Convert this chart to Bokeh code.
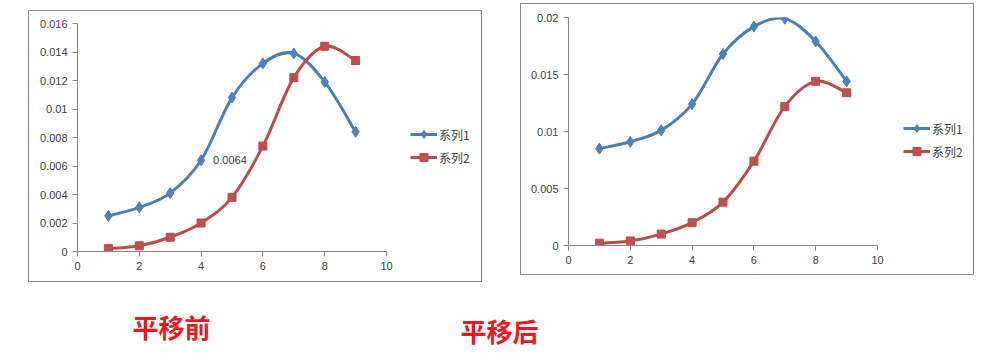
from bokeh.plotting import figure
from bokeh.models import (Range1d, FixedTicker, Legend, LegendItem, Label, Spacer,
                          ColumnDataSource)
from bokeh.layouts import row, column
from bokeh.embed import file_html
from bokeh.resources import INLINE

# ---------------- data ----------------
x_vals = [1, 2, 3, 4, 5, 6, 7, 8, 9]
s1_before = [0.0025, 0.0031, 0.0041, 0.0064, 0.0108, 0.0132, 0.0139, 0.0119, 0.0084]
s2_values = [0.0002, 0.0004, 0.0010, 0.0020, 0.0038, 0.0074, 0.0122, 0.0144, 0.0134]
s1_after = [0.0085, 0.0091, 0.0101, 0.0124, 0.0168, 0.0192, 0.0199, 0.0179, 0.0144]
series_names = ["系列1", "系列2"]
captions = ["平移前", "平移后"]

x_ticks = [0, 2, 4, 6, 8, 10]
x_tick_labels = ["0", "2", "4", "6", "8", "10"]
y1_ticks = [0, 0.002, 0.004, 0.006, 0.008, 0.01, 0.012, 0.014, 0.016]
y1_tick_labels = ["0", "0.002", "0.004", "0.006", "0.008", "0.01", "0.012", "0.014", "0.016"]
y2_ticks = [0, 0.005, 0.01, 0.015, 0.02]
y2_tick_labels = ["0", "0.005", "0.01", "0.015", "0.02"]
x_axis_max = 10
label_index = 3  # data label shown on series 1 before shift

BLUE_LINE = "#4A7EBB"
BLUE_FILL = "#4F81BD"
RED_LINE = "#BE4B48"
RED_FILL = "#C0504D"
TEXT = "#404040"
AXIS = "#868686"
TICK_FONT = "Liberation Sans"
CJK_FONT = "Noto Sans CJK SC"

FIG_W, FIG_H = 454, 272
PLOT_W = 309  # pixel length of the x axis (0..10)


def bezier_source(xs, ys):
    """Excel-style smoothed line: cubic Bezier segments between data points."""
    n = len(xs)
    d = dict(x0=[], y0=[], x1=[], y1=[], cx0=[], cy0=[], cx1=[], cy1=[])
    for i in range(n - 1):
        ip = max(i - 1, 0)
        inx = min(i + 2, n - 1)
        d["x0"].append(xs[i]); d["y0"].append(ys[i])
        d["x1"].append(xs[i + 1]); d["y1"].append(ys[i + 1])
        d["cx0"].append(xs[i] + (xs[i + 1] - xs[ip]) / 6.0)
        d["cy0"].append(ys[i] + (ys[i + 1] - ys[ip]) / 6.0)
        d["cx1"].append(xs[i + 1] - (xs[inx] - xs[i]) / 6.0)
        d["cy1"].append(ys[i + 1] - (ys[inx] - ys[i]) / 6.0)
    return ColumnDataSource(d)


def make_chart(s1, s2, yticks, ylabels, ymax, borders, legend_loc, show_label):
    bl, br, bt, bb = borders
    frame_w = FIG_W - bl - br
    x_end = x_axis_max * frame_w / PLOT_W
    p = figure(width=FIG_W, height=FIG_H, output_backend="svg", toolbar_location=None,
               x_range=Range1d(0, x_end), y_range=Range1d(0, ymax),
               min_border_left=bl, min_border_right=br, min_border_top=bt,
               min_border_bottom=bb,
               styles={"border": "1px solid #8a8a8a"})
    p.outline_line_color = None
    p.grid.visible = False
    p.background_fill_color = "white"
    p.border_fill_color = "white"

    for ax in (p.xaxis[0], p.yaxis[0]):
        ax.axis_line_color = AXIS
        ax.major_tick_line_color = AXIS
        ax.minor_tick_line_color = None
        ax.major_tick_in = 0
        ax.major_tick_out = 5
        ax.major_label_text_font = TICK_FONT
        ax.major_label_text_font_size = "11px"
        ax.major_label_text_color = TEXT
        ax.major_label_standoff = 5
    p.xaxis.bounds = (0, x_axis_max)
    p.xaxis.ticker = FixedTicker(ticks=x_ticks)
    p.xaxis.major_label_overrides = dict(zip(x_ticks, x_tick_labels))
    p.yaxis.ticker = FixedTicker(ticks=yticks)
    p.yaxis.major_label_overrides = dict(zip(yticks, ylabels))

    b1 = p.bezier("x0", "y0", "x1", "y1", "cx0", "cy0", "cx1", "cy1",
                  source=bezier_source(x_vals, s1), line_color=BLUE_LINE, line_width=3)
    m1 = p.scatter(x_vals, s1, marker="diamond", size=11, fill_color=BLUE_FILL,
                   line_color=BLUE_LINE, line_width=1)
    b2 = p.bezier("x0", "y0", "x1", "y1", "cx0", "cy0", "cx1", "cy1",
                  source=bezier_source(x_vals, s2), line_color=RED_LINE, line_width=3)
    m2 = p.scatter(x_vals, s2, marker="square", size=8, fill_color=RED_FILL,
                   line_color=RED_LINE, line_width=1)

    if show_label:
        p.add_layout(Label(x=x_vals[label_index], y=s1[label_index],
                           text=f"{s1[label_index]:g}", x_offset=12,
                           text_baseline="middle", text_font=TICK_FONT,
                           text_font_size="11px", text_color=TEXT))

    legend = Legend(items=[LegendItem(label=series_names[0], renderers=[b1, m1]),
                           LegendItem(label=series_names[1], renderers=[b2, m2])],
                    location=legend_loc, border_line_color=None,
                    background_fill_alpha=0, padding=0, margin=0, spacing=3,
                    glyph_width=27, glyph_height=20, label_standoff=2,
                    label_text_font=CJK_FONT, label_text_font_size="12px",
                    label_text_color=TEXT)
    p.add_layout(legend)
    return p


p1 = make_chart(s1_before, s2_values, y1_ticks, y1_tick_labels, 0.016,
                (48, 2, 12, 32), (333, 84), True)
p2 = make_chart(s1_after, s2_values, y2_ticks, y2_tick_labels, 0.02,
                (47, 2, 13, 31), (335, 84), False)

cap = figure(width=984, height=70, output_backend="svg", toolbar_location=None,
             x_range=Range1d(0, 984), y_range=Range1d(70, 0),
             min_border=0)
cap.axis.visible = False
cap.grid.visible = False
cap.outline_line_color = None
for txt, cx, cy in zip(captions, [171, 499], [44, 48]):
    cap.add_layout(Label(x=cx, y=cy, text=txt, text_align="center",
                         text_baseline="middle", text_font=CJK_FONT,
                         text_font_style="bold", text_font_size="26px",
                         text_color="#E8191F"))

top = row(Spacer(width=28), column(Spacer(height=10), p1), Spacer(width=38),
          column(Spacer(height=3), p2))
layout = column(top, cap)

open("out.html", "w").write(file_html(layout, INLINE))
